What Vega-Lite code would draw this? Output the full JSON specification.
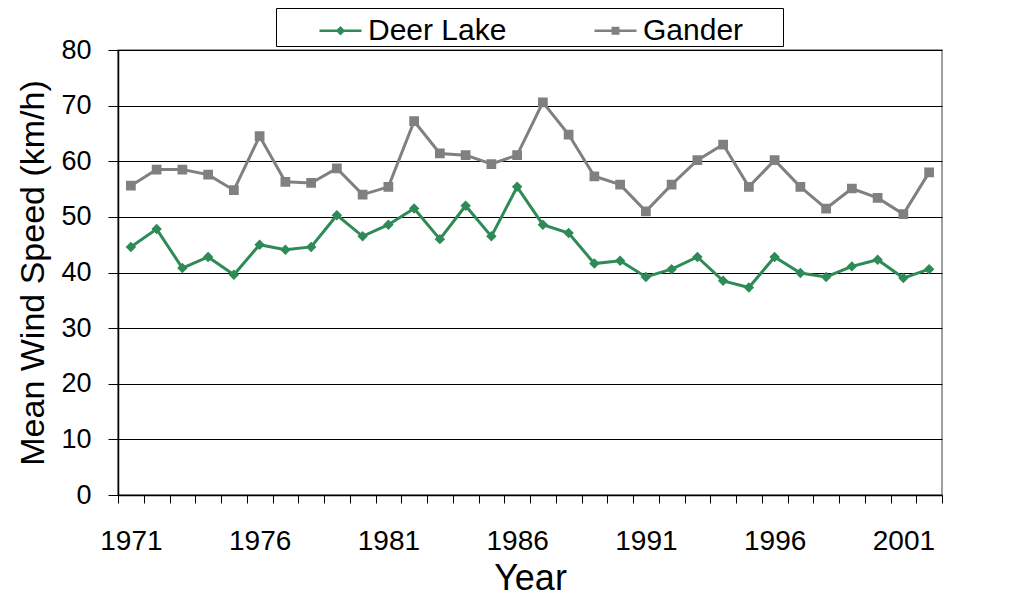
{
  "$schema": "https://vega.github.io/schema/vega-lite/v6.json",
  "width": 824,
  "height": 445,
  "autosize": "none",
  "padding": {"left": 118, "top": 50, "right": 71, "bottom": 109},
  "background": "white",
  "config": {
    "font": "Liberation Sans",
    "view": {"stroke": "#808080", "strokeWidth": 1.5},
    "legend": {
      "orient": "none",
      "legendX": 158,
      "legendY": -42,
      "direction": "horizontal",
      "columns": 2,
      "strokeColor": "black",
      "fillColor": "white",
      "padding": 0,
      "symbolSize": 1764,
      "symbolStrokeWidth": 2.5,
      "symbolOffset": 42,
      "labelFontSize": 30,
      "labelColor": "black",
      "labelOffset": 5,
      "columnPadding": 44,
      "labelLimit": 0,
      "titleOrient": "right",
      "titlePadding": 40,
      "titleFontSize": 10
    }
  },
  "data": {
    "values": [
      {"year": 1971, "series": "Deer Lake", "speed": 44.6},
      {"year": 1972, "series": "Deer Lake", "speed": 47.8},
      {"year": 1973, "series": "Deer Lake", "speed": 40.8},
      {"year": 1974, "series": "Deer Lake", "speed": 42.8},
      {"year": 1975, "series": "Deer Lake", "speed": 39.6},
      {"year": 1976, "series": "Deer Lake", "speed": 45.0},
      {"year": 1977, "series": "Deer Lake", "speed": 44.1},
      {"year": 1978, "series": "Deer Lake", "speed": 44.6},
      {"year": 1979, "series": "Deer Lake", "speed": 50.3},
      {"year": 1980, "series": "Deer Lake", "speed": 46.5},
      {"year": 1981, "series": "Deer Lake", "speed": 48.6},
      {"year": 1982, "series": "Deer Lake", "speed": 51.5},
      {"year": 1983, "series": "Deer Lake", "speed": 46.0},
      {"year": 1984, "series": "Deer Lake", "speed": 52.0},
      {"year": 1985, "series": "Deer Lake", "speed": 46.5},
      {"year": 1986, "series": "Deer Lake", "speed": 55.4},
      {"year": 1987, "series": "Deer Lake", "speed": 48.6},
      {"year": 1988, "series": "Deer Lake", "speed": 47.1},
      {"year": 1989, "series": "Deer Lake", "speed": 41.6},
      {"year": 1990, "series": "Deer Lake", "speed": 42.1},
      {"year": 1991, "series": "Deer Lake", "speed": 39.2},
      {"year": 1992, "series": "Deer Lake", "speed": 40.6},
      {"year": 1993, "series": "Deer Lake", "speed": 42.8},
      {"year": 1994, "series": "Deer Lake", "speed": 38.5},
      {"year": 1995, "series": "Deer Lake", "speed": 37.3},
      {"year": 1996, "series": "Deer Lake", "speed": 42.8},
      {"year": 1997, "series": "Deer Lake", "speed": 39.9},
      {"year": 1998, "series": "Deer Lake", "speed": 39.2},
      {"year": 1999, "series": "Deer Lake", "speed": 41.1},
      {"year": 2000, "series": "Deer Lake", "speed": 42.3},
      {"year": 2001, "series": "Deer Lake", "speed": 39.0},
      {"year": 2002, "series": "Deer Lake", "speed": 40.6},
      {"year": 1971, "series": "Gander", "speed": 55.6},
      {"year": 1972, "series": "Gander", "speed": 58.5},
      {"year": 1973, "series": "Gander", "speed": 58.5},
      {"year": 1974, "series": "Gander", "speed": 57.6},
      {"year": 1975, "series": "Gander", "speed": 54.8},
      {"year": 1976, "series": "Gander", "speed": 64.5},
      {"year": 1977, "series": "Gander", "speed": 56.3},
      {"year": 1978, "series": "Gander", "speed": 56.1},
      {"year": 1979, "series": "Gander", "speed": 58.7},
      {"year": 1980, "series": "Gander", "speed": 54.0},
      {"year": 1981, "series": "Gander", "speed": 55.4},
      {"year": 1982, "series": "Gander", "speed": 67.2},
      {"year": 1983, "series": "Gander", "speed": 61.4},
      {"year": 1984, "series": "Gander", "speed": 61.1},
      {"year": 1985, "series": "Gander", "speed": 59.5},
      {"year": 1986, "series": "Gander", "speed": 61.1},
      {"year": 1987, "series": "Gander", "speed": 70.6},
      {"year": 1988, "series": "Gander", "speed": 64.8},
      {"year": 1989, "series": "Gander", "speed": 57.3},
      {"year": 1990, "series": "Gander", "speed": 55.8},
      {"year": 1991, "series": "Gander", "speed": 51.0},
      {"year": 1992, "series": "Gander", "speed": 55.8},
      {"year": 1993, "series": "Gander", "speed": 60.2},
      {"year": 1994, "series": "Gander", "speed": 63.0},
      {"year": 1995, "series": "Gander", "speed": 55.4},
      {"year": 1996, "series": "Gander", "speed": 60.2},
      {"year": 1997, "series": "Gander", "speed": 55.4},
      {"year": 1998, "series": "Gander", "speed": 51.5},
      {"year": 1999, "series": "Gander", "speed": 55.1},
      {"year": 2000, "series": "Gander", "speed": 53.4},
      {"year": 2001, "series": "Gander", "speed": 50.5},
      {"year": 2002, "series": "Gander", "speed": 58.0}
    ]
  },
  "encoding": {
    "x": {
      "field": "year",
      "type": "quantitative",
      "scale": {"domain": [1970.5, 2002.5], "nice": false, "zero": false},
      "axis": {
        "title": "Year",
        "values": [1970.5, 1971.5, 1972.5, 1973.5, 1974.5, 1975.5, 1976.5, 1977.5, 1978.5, 1979.5, 1980.5, 1981.5, 1982.5, 1983.5, 1984.5, 1985.5, 1986.5, 1987.5, 1988.5, 1989.5, 1990.5, 1991.5, 1992.5, 1993.5, 1994.5, 1995.5, 1996.5, 1997.5, 1998.5, 1999.5, 2000.5, 2001.5, 2002.5],
        "labelExpr": "(datum.value + 0.5 - 1971) % 5 == 0 ? format(datum.value + 0.5, 'd') : ''",
        "labelOffset": 12.875,
        "labelOverlap": false,
        "labelFlush": false,
        "labelBound": false,
        "grid": false,
        "tickSize": 8,
        "tickColor": "black",
        "tickWidth": 1,
        "domainColor": "black",
        "domainWidth": 1.5,
        "labelFontSize": 28,
        "labelColor": "black",
        "labelPadding": 24,
        "titleFontSize": 36,
        "titleFontWeight": "normal",
        "titleColor": "black",
        "titlePadding": 6
      }
    },
    "y": {
      "field": "speed",
      "type": "quantitative",
      "scale": {"domain": [0, 80], "nice": false},
      "axis": {
        "title": "Mean Wind Speed (km/h)",
        "values": [0, 10, 20, 30, 40, 50, 60, 70, 80],
        "grid": true,
        "gridColor": "black",
        "gridWidth": 1,
        "gridOpacity": 1,
        "tickSize": 10,
        "tickColor": "black",
        "domainColor": "black",
        "domainWidth": 1.5,
        "labelFontSize": 27,
        "labelColor": "black",
        "labelPadding": 17,
        "titleFontSize": 34,
        "titleFontWeight": "normal",
        "titleColor": "black",
        "titlePadding": 10
      }
    }
  },
  "layer": [
    {
      "mark": {"type": "line", "strokeWidth": 3},
      "encoding": {
        "stroke": {
          "field": "series",
          "type": "nominal",
          "title": "\u00a0",
          "scale": {"domain": ["Deer Lake", "Gander"], "range": ["#2E8B57", "#808080"]}
        }
      }
    },
    {
      "mark": {"type": "point", "filled": true, "strokeWidth": 0, "opacity": 1},
      "encoding": {
        "size": {"value": 5600},
        "stroke": {
          "field": "series",
          "type": "nominal",
          "title": "\u00a0",
          "scale": {"domain": ["Deer Lake", "Gander"], "range": ["#2E8B57", "#808080"]}
        },
        "fill": {
          "field": "series",
          "type": "nominal",
          "title": "\u00a0",
          "scale": {"domain": ["Deer Lake", "Gander"], "range": ["#2E8B57", "#808080"]}
        },
        "shape": {
          "field": "series",
          "type": "nominal",
          "title": "\u00a0",
          "scale": {
            "domain": ["Deer Lake", "Gander"],
            "range": ["M-1,0H1M0,-0.14L0.14,0L0,0.14L-0.14,0Z", "M-1,0H1M-0.13,-0.13H0.13V0.13H-0.13Z"]
          }
        }
      }
    }
  ]
}
